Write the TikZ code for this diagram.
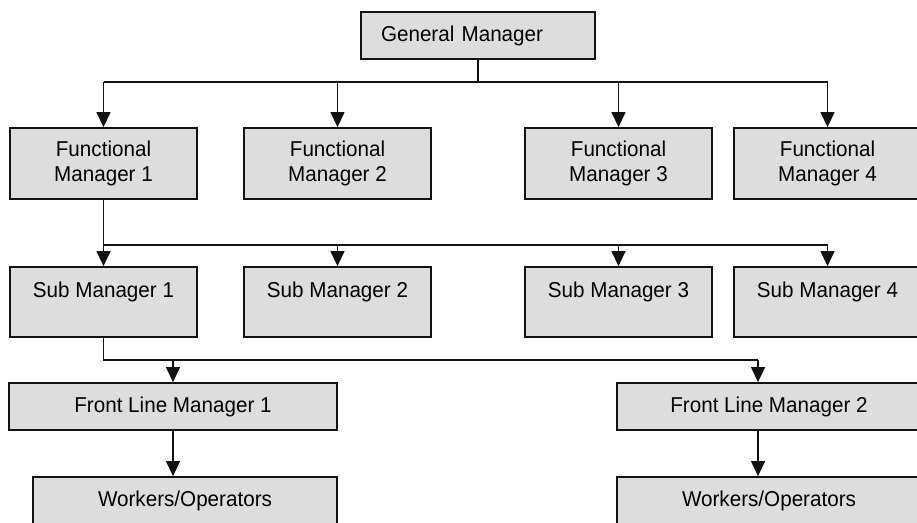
\documentclass[tikz,border=0pt]{standalone}
\usepackage{fontspec}
\setmainfont{Liberation Sans}[FakeStretch=0.96]
\usetikzlibrary{arrows.meta}
\definecolor{boxfill}{RGB}{221,221,221}
\definecolor{inkline}{RGB}{18,18,18}

\begin{document}
\begin{tikzpicture}[x=1pt,y=-1pt,
  orgbox/.style={draw=inkline, line width=1.8pt, fill=boxfill, inner sep=0pt,
    align=center, text=black, font=\fontsize{21.5}{25}\selectfont},
  gmbox/.style={orgbox, text width=194pt, align=left, inner xsep=20pt, minimum height=47pt},
  fmbox/.style={orgbox, minimum width=187pt, minimum height=71pt},
  smbox/.style={orgbox, minimum width=187pt, minimum height=70pt},
  flbox/.style={orgbox, minimum height=47pt},
  wobox/.style={orgbox, minimum width=304pt, minimum height=47pt},
  link/.style={draw=inkline, line width=1.3pt},
  arr/.style={link, -{Triangle[length=15pt,width=14pt]}}
]
\useasboundingbox (0,0) rectangle (917,522);
\clip (0,0) rectangle (917,522);

% boxes
\node[gmbox] (gm) at (478,35.5) {General Manager};

\node[fmbox] (fm1) at (103.5,163.5) {Functional\\Manager 1};
\node[fmbox] (fm2) at (337.5,163.5) {Functional\\Manager 2};
\node[fmbox] (fm3) at (618.5,163.5) {Functional\\Manager 3};
\node[fmbox] (fm4) at (827.5,163.5) {Functional\\Manager 4};

\node[smbox] (sm1) at (103.5,302) {Sub Manager 1\\~};
\node[smbox] (sm2) at (337.5,302) {Sub Manager 2\\~};
\node[smbox] (sm3) at (618.5,302) {Sub Manager 3\\~};
\node[smbox] (sm4) at (827.5,302) {Sub Manager 4\\~};

\node[flbox, minimum width=328pt] (fl1) at (173,406.5) {Front Line Manager 1};
\node[flbox, minimum width=304pt] (fl2) at (769,406.5) {Front Line Manager 2};

\node[wobox] (wo1) at (185,500.5) {Workers/Operators};
\node[wobox] (wo2) at (769,500.5) {Workers/Operators};

% bus levels and the right-hand branch
\coordinate (busA) at (0,82);
\coordinate (busB) at (0,245);
\coordinate (busC) at (0,360);
\coordinate (rbr) at (758,0);

% general manager to functional managers
\draw[link] (gm.south) -- (gm.south |- busA);
\draw[link] (fm1.north |- busA) -- (fm4.north |- busA);
\foreach \n in {fm1,fm2,fm3,fm4}
  \draw[arr] (\n.north |- busA) -- (\n.north);

% functional manager 1 to sub managers
\draw[link] (fm1.south) -- (fm1.south |- busB) -- (sm4.north |- busB);
\foreach \n in {sm1,sm2,sm3,sm4}
  \draw[arr] (\n.north |- busB) -- (\n.north);

% sub manager 1 to front line managers
\draw[link] (sm1.south) -- (sm1.south |- busC) -- (rbr |- busC);
\draw[arr] (fl1.north |- busC) -- (fl1.north);
\draw[arr] (rbr |- busC) -- (rbr |- fl2.north);

% front line managers to workers
\draw[arr] (fl1.south) -- (fl1.south |- wo1.north);
\draw[arr] (rbr |- fl2.south) -- (rbr |- wo2.north);
\end{tikzpicture}
\end{document}
